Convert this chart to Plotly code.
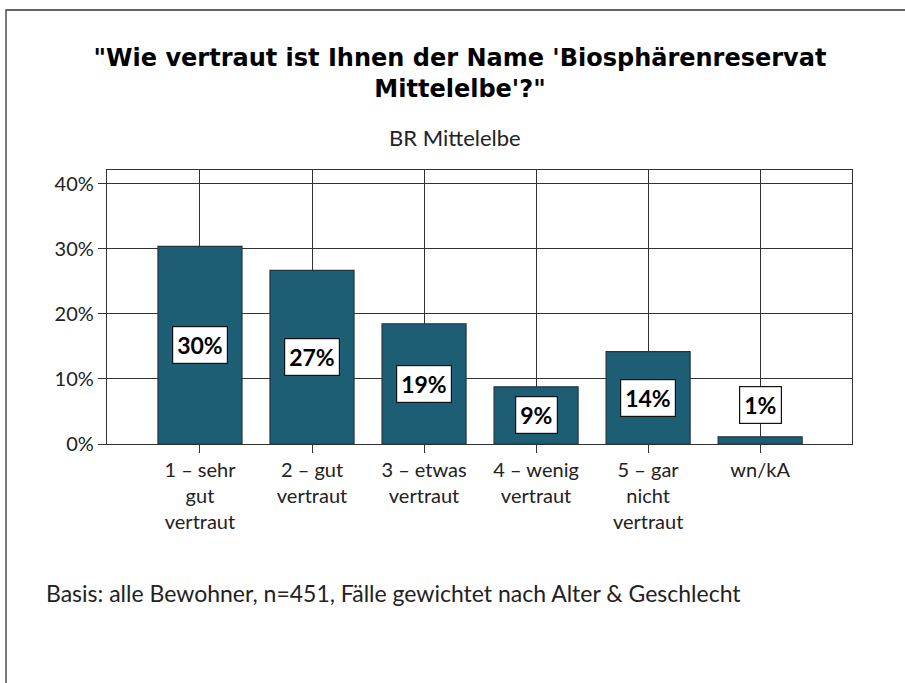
import plotly.graph_objects as go

categories = ["1 – sehr<br>gut<br>vertraut", "2 – gut<br>vertraut", "3 – etwas<br>vertraut",
              "4 – wenig<br>vertraut", "5 – gar<br>nicht<br>vertraut", "wn/kA"]
values = [30.4, 26.7, 18.5, 8.8, 14.2, 1.1]
labels = ["30%", "27%", "19%", "9%", "14%", "1%"]
ytick_vals = [0, 10, 20, 30, 40]
ytick_text = ["0%", "10%", "20%", "30%", "40%"]

title_text = "\"Wie vertraut ist Ihnen der Name 'Biosphärenreservat<br>Mittelelbe'?\""
subtitle_text = "BR Mittelelbe"
footer_text = "Basis: alle Bewohner, n=451, Fälle gewichtet nach Alter & Geschlecht"

FONT = "Lato, 'Open Sans', sans-serif"
TFONT = "'DejaVu Sans', Verdana, sans-serif"
W, H = 905, 683
L, R, T, B = 107, 53, 170, 239
pw, ph = W - L - R, H - T - B

def px_x(p):
    return (p - L) / pw

def px_y(p):
    return (H - B - p) / ph

fig = go.Figure()
fig.add_trace(go.Bar(
    x=list(range(len(categories))), y=values, width=0.75,
    marker=dict(color="#1e5e74", line=dict(color="#22363d", width=1.2)),
    hoverinfo="skip",
))

annotations = []
for i, (v, lab) in enumerate(zip(values, labels)):
    ypos = v / 2 if v >= 4 else v + 4.9
    annotations.append(dict(
        x=i, y=ypos, xref="x", yref="y", text=lab, showarrow=False,
        font=dict(family=FONT, size=23, color="black", weight="bold"),
        bgcolor="white", bordercolor="#111", borderwidth=1.2, borderpad=4,
        xanchor="center", yanchor="middle",
    ))

annotations.append(dict(
    x=px_x(455), xref="paper", y=px_y(137), yref="paper", text=subtitle_text,
    showarrow=False, font=dict(family=FONT, size=22, color="#222"),
    xanchor="center", yanchor="middle",
))
annotations.append(dict(
    x=px_x(44), xref="paper", y=px_y(593), yref="paper", text=footer_text,
    showarrow=False, font=dict(family=FONT, size=23, color="#222"),
    xanchor="left", yanchor="middle",
))

fig.update_layout(
    width=W, height=H,
    margin=dict(l=L, r=R, t=T, b=B),
    paper_bgcolor="white", plot_bgcolor="white",
    showlegend=False,
    title=dict(text=title_text, x=460 / W, xanchor="center", xref="container",
               y=1 - 66 / H, yanchor="top", yref="container",
               font=dict(family=TFONT, size=24, color="black", weight="bold")),
    xaxis=dict(
        range=[-0.83, 5.82], tickmode="array", tickvals=list(range(len(categories))),
        ticktext=categories, showgrid=True, gridcolor="#333", gridwidth=1.4,
        ticks="outside", ticklen=8, tickcolor="#333", tickwidth=1.4,
        showline=True, mirror=True, linecolor="#333", linewidth=1.4,
        tickfont=dict(family=FONT, size=20, color="#222"), zeroline=False,
        fixedrange=True,
    ),
    yaxis=dict(
        range=[0, 42.15], tickmode="array", tickvals=ytick_vals, ticktext=ytick_text,
        showgrid=True, gridcolor="#333", gridwidth=1.4,
        ticks="outside", ticklen=8, tickcolor="#333", tickwidth=1.4,
        showline=True, mirror=True, linecolor="#333", linewidth=1.4,
        tickfont=dict(family=FONT, size=20, color="#222"), zeroline=False,
        fixedrange=True,
    ),
    annotations=annotations,
    shapes=[dict(type="rect", xref="paper", yref="paper",
                 x0=px_x(6), x1=px_x(1200), y0=px_y(1000), y1=px_y(10),
                 line=dict(color="#333", width=1.3), fillcolor="rgba(0,0,0,0)",
                 layer="below")],
)

fig.write_html("out.html", config={"displayModeBar": False},
               post_script="document.body.style.margin='0px';document.body.style.overflow='hidden';")
